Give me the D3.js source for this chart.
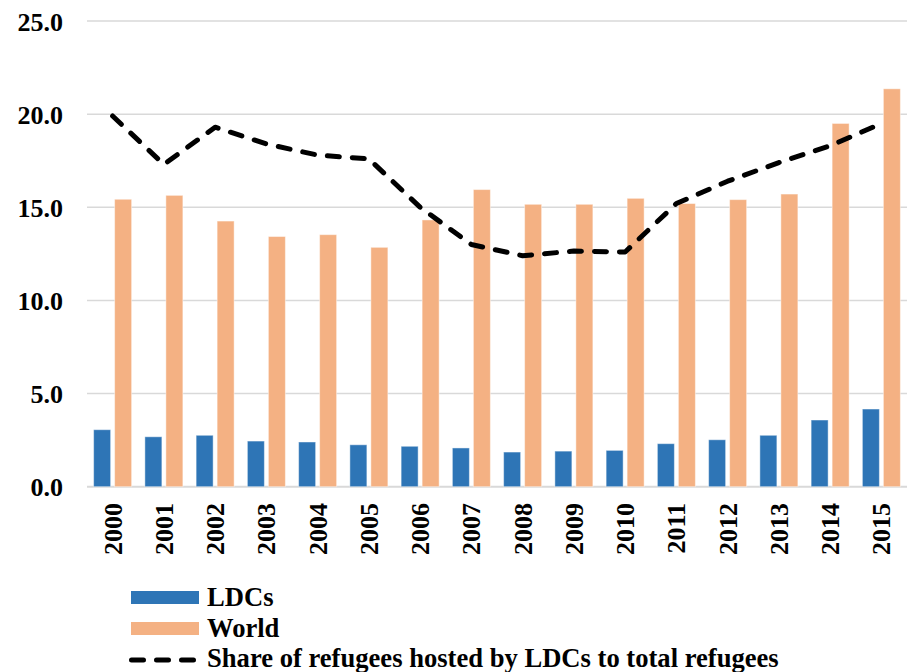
<!DOCTYPE html>
<html>
<head>
<meta charset="utf-8">
<script src="https://cdn.jsdelivr.net/npm/d3@7"></script>
<style>
  html, body { margin: 0; padding: 0; background: #fff; }
  svg { display: block; }
  text { font-family: "Liberation Serif", "Times New Roman", serif; font-weight: bold; fill: #000; }
</style>
</head>
<body>
<svg id="chart" width="912" height="672"></svg>
<script>
// Refugees hosted, 2000-2015 (millions) and LDC share of total (%)
const years = ["2000","2001","2002","2003","2004","2005","2006","2007",
               "2008","2009","2010","2011","2012","2013","2014","2015"];
const ldcs  = [3.06, 2.68, 2.76, 2.45, 2.40, 2.25, 2.17, 2.08,
               1.86, 1.91, 1.95, 2.31, 2.52, 2.76, 3.58, 4.17];
const world = [15.43, 15.64, 14.26, 13.43, 13.53, 12.85, 14.32, 15.95,
               15.16, 15.16, 15.48, 15.20, 15.41, 15.71, 19.50, 21.36];
const share = [19.9, 17.3, 19.3, 18.4, 17.8, 17.6, 15.0, 13.0,
               12.4, 12.65, 12.6, 15.2, 16.4, 17.4, 18.3, 19.5];
const yTicks = [0, 5, 10, 15, 20, 25];
const seriesNames = ["LDCs", "World", "Share of refugees hosted by LDCs to total refugees"];

const colors = { LDCs: "#2e75b6", World: "#f4b183" };

const svg = d3.select("#chart");
const plotLeft = 87, plotRight = 907, plotTop = 21, plotBottom = 486.7;

const x0 = d3.scaleBand().domain(years).range([plotLeft, plotRight])
  .paddingInner(0.2585).paddingOuter(0.2585 / 2);
const x1 = d3.scaleBand().domain(["LDCs", "World"]).range([0, x0.bandwidth()])
  .paddingInner(4 / 21);
const y = d3.scaleLinear().domain([0, 25]).range([plotBottom, plotTop]);

// Horizontal gridlines
svg.append("g").selectAll("line").data(yTicks).join("line")
  .attr("x1", plotLeft).attr("x2", plotRight)
  .attr("y1", d => y(d)).attr("y2", d => y(d))
  .attr("stroke", "#d9d9d9")
  .attr("stroke-width", d => d === 0 ? 2 : 1.5);

// Y axis labels
const yAxis = d3.axisLeft(y).tickValues(yTicks).tickFormat(d3.format(".1f")).tickSize(0).tickPadding(0);
const gy = svg.append("g").attr("transform", "translate(63,0)").call(yAxis);
gy.select(".domain").remove();
gy.attr("font-family", null).attr("font-size", null);
gy.selectAll("text").attr("font-size", 26).attr("dy", "0.35em").attr("fill", "#000");

// Bars
const rows = years.map((yr, i) => ({ year: yr, LDCs: ldcs[i], World: world[i] }));
const groups = svg.append("g").selectAll("g").data(rows).join("g")
  .attr("transform", d => `translate(${x0(d.year)},0)`);
groups.selectAll("rect")
  .data(d => ["LDCs", "World"].map(k => ({ key: k, value: d[k] })))
  .join("rect")
  .attr("x", d => x1(d.key))
  .attr("width", x1.bandwidth())
  .attr("y", d => y(d.value))
  .attr("height", d => y(0) - y(d.value))
  .attr("fill", d => colors[d.key])
  .attr("stroke", "#ffffff").attr("stroke-opacity", 0.45).attr("stroke-width", 1);

// X axis labels (rotated)
svg.append("g").selectAll("text").data(years).join("text")
  .attr("transform", d => `translate(${x0(d) + x0.bandwidth() / 2},503) rotate(-90)`)
  .attr("text-anchor", "end")
  .attr("dy", "0.35em")
  .attr("font-size", 26)
  .text(d => d);

// Share line
const line = d3.line()
  .x((d, i) => x0(years[i]) + x0.bandwidth() / 2)
  .y(d => y(d));
svg.append("path").datum(share)
  .attr("d", line)
  .attr("fill", "none")
  .attr("stroke", "#000")
  .attr("stroke-width", 5)
  .attr("stroke-dasharray", "12,13")
  .attr("stroke-linecap", "round")
  .attr("stroke-linejoin", "round");

// Legend
const lg = svg.append("g");
lg.append("rect").attr("x", 131).attr("y", 591).attr("width", 68).attr("height", 13).attr("fill", colors.LDCs);
lg.append("rect").attr("x", 131).attr("y", 622).attr("width", 68).attr("height", 13).attr("fill", colors.World);
lg.append("line").attr("x1", 131.5).attr("x2", 196).attr("y1", 660).attr("y2", 660)
  .attr("stroke", "#000").attr("stroke-width", 5)
  .attr("stroke-dasharray", "12,13").attr("stroke-linecap", "round");
lg.selectAll("text").data(seriesNames).join("text")
  .attr("x", 207)
  .attr("y", (d, i) => [606, 636.5, 666.5][i])
  .attr("font-size", 26.6)
  .text(d => d);
</script>
</body>
</html>
